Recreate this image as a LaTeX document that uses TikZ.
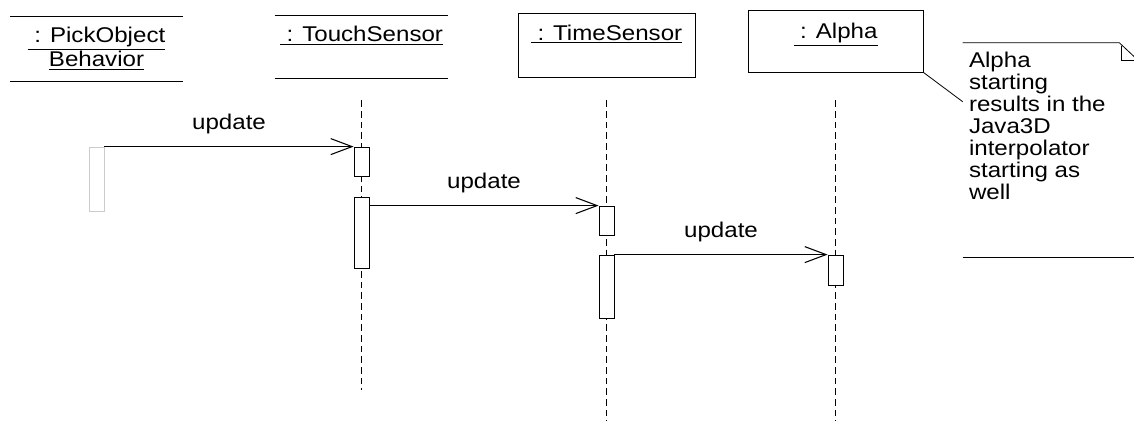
\documentclass[tikz,border=0pt]{standalone}
\usepackage{fontspec}
\setmainfont{Liberation Sans}[FakeStretch=1.13]
\usetikzlibrary{arrows,positioning}
\usetikzlibrary{arrows.meta}
\usetikzlibrary{calc}

\begin{document}
\begin{tikzpicture}[x=0.75pt,y=0.75pt,yscale=-1,xscale=1,
	every node/.style={font=\fontsize{16}{16.5}\selectfont},
	objbox/.style={inner sep=0pt, line width=0.6pt},
	objname/.style={inner sep=0pt, align=center},
	lifeline/.style={line width=0.5pt, dash pattern={on 5pt off 3pt}},
	act/.style={draw, fill=white, line width=0.6pt, minimum width=11.25pt, inner sep=0pt},
	msg/.style={line width=0.8pt, -{Straight Barb[length=16pt,width=12pt,line width=0.8pt]}},
	lbl/.style={above=6pt}]
	\useasboundingbox (0,0) rectangle (1134,421);
	
	% Objects
	\node [objbox, minimum width=129.75pt, minimum height=48pt] (pick) at (96.5,49) {};
	\node [objbox, minimum width=129.75pt, minimum height=46.5pt] (touch) at (361.5,47) {};
	\node [objbox, draw, minimum width=132.75pt, minimum height=48pt] (time) at (606.5,45) {};
	\node [objbox, draw, minimum width=131.25pt, minimum height=46.5pt] (alpha) at (835.5,41) {};
	\draw [line width=0.6pt] (pick.north west) -- (pick.north east) (pick.south west) -- (pick.south east);
	\draw [line width=0.6pt] (touch.north west) -- (touch.north east) (touch.south west) -- (touch.south east);
	
	% Object names
	\node [objname, below=8pt of pick.north] {\underline{\ : PickObject}\\\underline{Behavior}};
	\node [objname, below=8pt of touch.north] {\underline{\ : TouchSensor}};
	\node [objname, below=9pt of time.north] {\underline{\ : TimeSensor}};
	\node [objname, below=10pt of alpha.north] {\underline{\ : Alpha}};
	
	% Lifelines
	\draw [lifeline] (touch.south) ++(0,22) -- (touch.south |- 0,390);
	\draw [lifeline] (time.south) ++(0,23) -- (time.south |- 0,421);
	\draw [lifeline] (alpha.south) ++(0,28) -- (alpha.south |- 0,421);
	
	% Activations
	\node [act, draw=black!20, minimum height=48pt] (pk1) at (pick.south |- 0,179) {};
	\node [act, minimum height=21.75pt] (ts1) at (touch.south |- 0,161.5) {};
	\node [act, minimum height=53.25pt] (ts2) at (touch.south |- 0,232.5) {};
	\node [act, minimum height=21.75pt] (tm1) at (time.south |- 0,220.5) {};
	\node [act, minimum height=47.25pt] (tm2) at (time.south |- 0,286.5) {};
	\node [act, minimum height=22.5pt] (al1) at (alpha.south |- 0,270) {};
	
	% Messages
	\draw [msg] (pk1.north east) -- node [lbl] {update} (ts1.north west);
	\draw [msg] (ts2.east |- tm1.north) -- node [lbl] {update} (tm1.north west);
	\draw [msg] (tm2.north east) -- node [lbl] {update} (al1.north west);
	
	% Note
	\node [minimum width=128.25pt, minimum height=160.5pt, inner sep=0pt] (note) at (1048.5,150) {};
	\node [anchor=north west, inner sep=0pt, align=left] (notetext) at ($(note.north west)+(6,9)$) {Alpha\\starting\\results in the\\Java3D\\interpolator\\starting as\\well};
	\draw [line width=0.6pt] (note.north west) -- ($(note.north east)+(-15,0)$) -- ($(note.north east)+(0,14)$);
	\draw [line width=0.6pt] ($(note.north east)+(-13,3)$) |- ($(note.north east)+(0,18)$);
	\draw [line width=0.6pt] (note.south west) -- (note.south east);
	\coordinate (notepin) at ($(note.north west)+(0,59)$);
	\draw [line width=0.6pt] (alpha.south east) -- (notepin);
	
\end{tikzpicture}
\end{document}
